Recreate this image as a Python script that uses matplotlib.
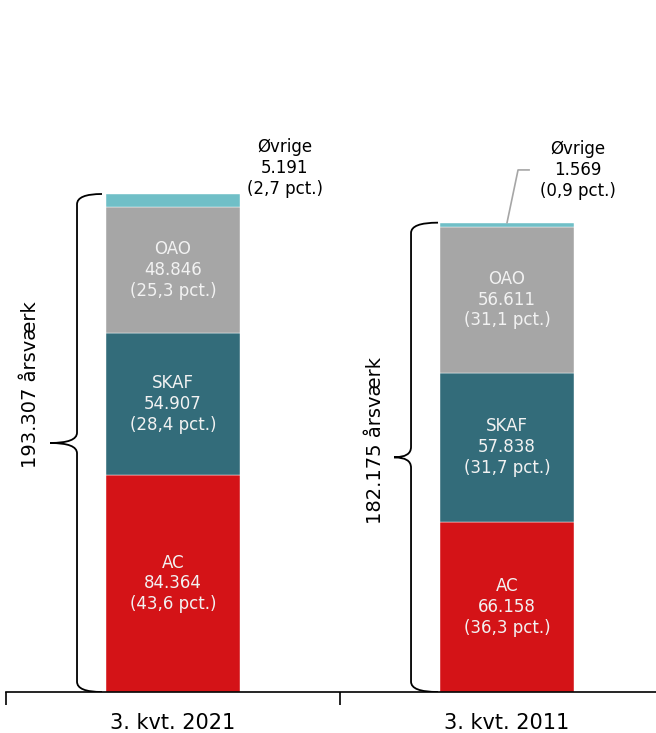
import matplotlib.pyplot as plt
from matplotlib.path import Path
from matplotlib.patches import PathPatch

categories = ['3. kvt. 2021', '3. kvt. 2011']
groups = ['AC', 'SKAF', 'OAO', 'Øvrige']
values = {
    'AC': [84364, 66158],
    'SKAF': [54907, 57838],
    'OAO': [48846, 56611],
    'Øvrige': [5191, 1569],
}
pcts = {
    'AC': ['43,6', '36,3'],
    'SKAF': ['28,4', '31,7'],
    'OAO': ['25,3', '31,1'],
    'Øvrige': ['2,7', '0,9'],
}
totals = [193307, 182175]
colors = {'AC': '#D41317', 'SKAF': '#336C7A', 'OAO': '#A6A6A6', 'Øvrige': '#70BFC7'}


def fmt(v):
    return '{:,}'.format(v).replace(',', '.')


def brace(ax, x_end, x_mid, x_tip, y0, y1, r):
    ym = (y0 + y1) / 2
    verts = [(x_end, y1), (x_mid, y1), (x_mid, y1 - r),
             (x_mid, ym + r), (x_mid, ym), (x_tip, ym),
             (x_mid, ym), (x_mid, ym - r),
             (x_mid, y0 + r), (x_mid, y0), (x_end, y0)]
    codes = [Path.MOVETO, Path.CURVE3, Path.CURVE3,
             Path.LINETO, Path.CURVE3, Path.CURVE3,
             Path.CURVE3, Path.CURVE3,
             Path.LINETO, Path.CURVE3, Path.CURVE3]
    ax.add_patch(PathPatch(Path(verts, codes), fill=False, lw=1.3, color='black'))


fig = plt.figure(figsize=(6.56, 7.33), dpi=100)
ax = fig.add_axes([6 / 656, 41 / 733, 1 - 6 / 656, 692 / 733])

x = [0, 1]
bottom = [0, 0]
for g in groups:
    ax.bar(x, values[g], width=0.4, bottom=bottom, color=colors[g],
           edgecolor='white', linewidth=0.3)
    if g != 'Øvrige':
        for i in range(2):
            ax.text(x[i], bottom[i] + values[g][i] / 2,
                    '%s\n%s\n(%s pct.)' % (g, fmt(values[g][i]), pcts[g][i]),
                    ha='center', va='center', color='#F2F2F2', fontsize=12,
                    linespacing=1.2)
    bottom = [bottom[i] + values[g][i] for i in range(2)]

# Øvrige labels above the bars
ax.text(0.335, 203400, 'Øvrige\n%s\n(%s pct.)' % (fmt(values['Øvrige'][0]), pcts['Øvrige'][0]),
        ha='center', va='center', fontsize=12, linespacing=1.2)
ax.text(1.2126, 202600, 'Øvrige\n%s\n(%s pct.)' % (fmt(values['Øvrige'][1]), pcts['Øvrige'][1]),
        ha='center', va='center', fontsize=12, linespacing=1.2)
ax.plot([1.0, 1.033, 1.066], [totals[1], 202640, 202640], color='#A6A6A6', lw=1.2)

# braces with totals
brace(ax, -0.2126, -0.2874, -0.368, 0, totals[0], 4000)
brace(ax, 0.7934, 0.7126, 0.6617, 0, totals[1], 4000)
ax.text(-0.428, 119200, fmt(totals[0]) + ' årsværk', rotation=90,
        ha='center', va='center', fontsize=14)
ax.text(0.605, 97800, fmt(totals[1]) + ' årsværk', rotation=90,
        ha='center', va='center', fontsize=14)

for s in ['top', 'right', 'left']:
    ax.spines[s].set_visible(False)
ax.spines['bottom'].set_linewidth(1.2)
ax.set_yticks([])
ax.set_xticks(x)
ax.set_xticklabels(categories, fontsize=15)
ax.tick_params(axis='x', which='major', length=0, pad=15)
ax.set_xticks([-0.5, 0.5, 1.5], minor=True)
ax.tick_params(axis='x', which='minor', length=9, width=1.2)
ax.set_xlim(-0.5, 1.446)
ax.set_ylim(0, 268600)

fig.savefig('out.png', dpi=100)
